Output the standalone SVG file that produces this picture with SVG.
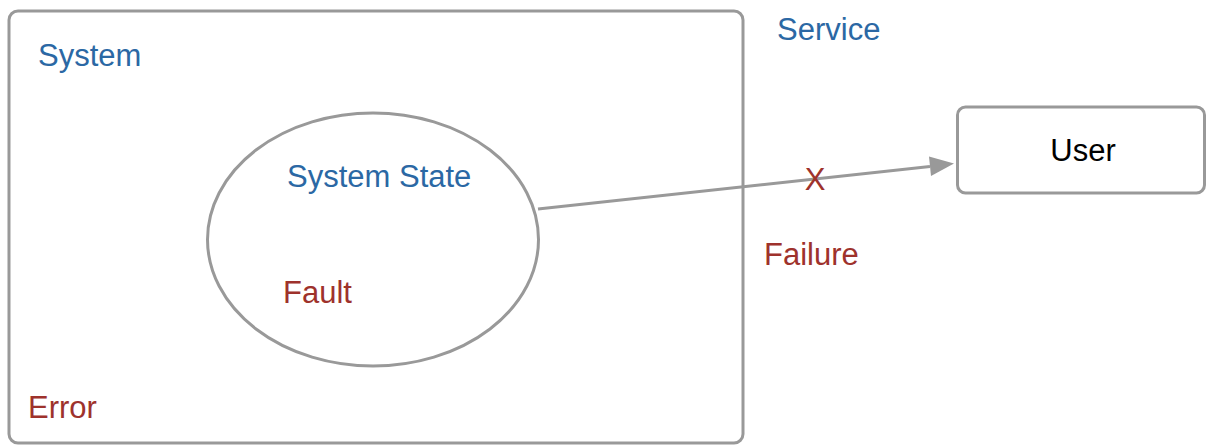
<svg xmlns="http://www.w3.org/2000/svg" width="1206" height="446" viewBox="0 0 1206 446">
  <style>
    .box { fill: #ffffff; stroke: #999999; stroke-width: 3; }
    .blue { font-family: "Liberation Sans", Arial, sans-serif; font-size: 31px; fill: #2b68a4; }
    .red { font-family: "Liberation Sans", Arial, sans-serif; font-size: 31px; fill: #9e322c; }
    .dark { font-family: "Liberation Sans", Arial, sans-serif; font-size: 31px; fill: #000000; }
    .edge { stroke: #999999; stroke-width: 3; fill: none; }
  </style>
  <rect width="1206" height="446" fill="#ffffff"/>

  <g id="system">
    <rect class="box" x="9" y="11" width="734" height="432" rx="9" ry="9"/>
    <text class="blue" x="38" y="66">System</text>
    <text class="red" x="28" y="418">Error</text>
  </g>

  <g id="service-labels">
    <text class="blue" x="777" y="40">Service</text>
    <text class="red" x="764" y="265">Failure</text>
  </g>

  <g id="system-state">
    <ellipse class="box" cx="373" cy="239.5" rx="165.5" ry="126.5"/>
    <text class="blue" x="287" y="187">System State</text>
    <text class="red" x="283" y="303">Fault</text>
  </g>

  <g id="user">
    <rect class="box" x="957.5" y="107" width="247" height="86" rx="8" ry="8"/>
    <text class="dark" x="1083" y="161" text-anchor="middle">User</text>
  </g>

  <g id="connectors">
    <line class="edge" x1="538" y1="209" x2="930" y2="166.5"/>
    <path d="M929,156.5 L954,163.5 L931,176 Z" fill="#999999"/>
    <text class="red" x="815" y="190" text-anchor="middle" font-size="28">X</text>
  </g>
</svg>
